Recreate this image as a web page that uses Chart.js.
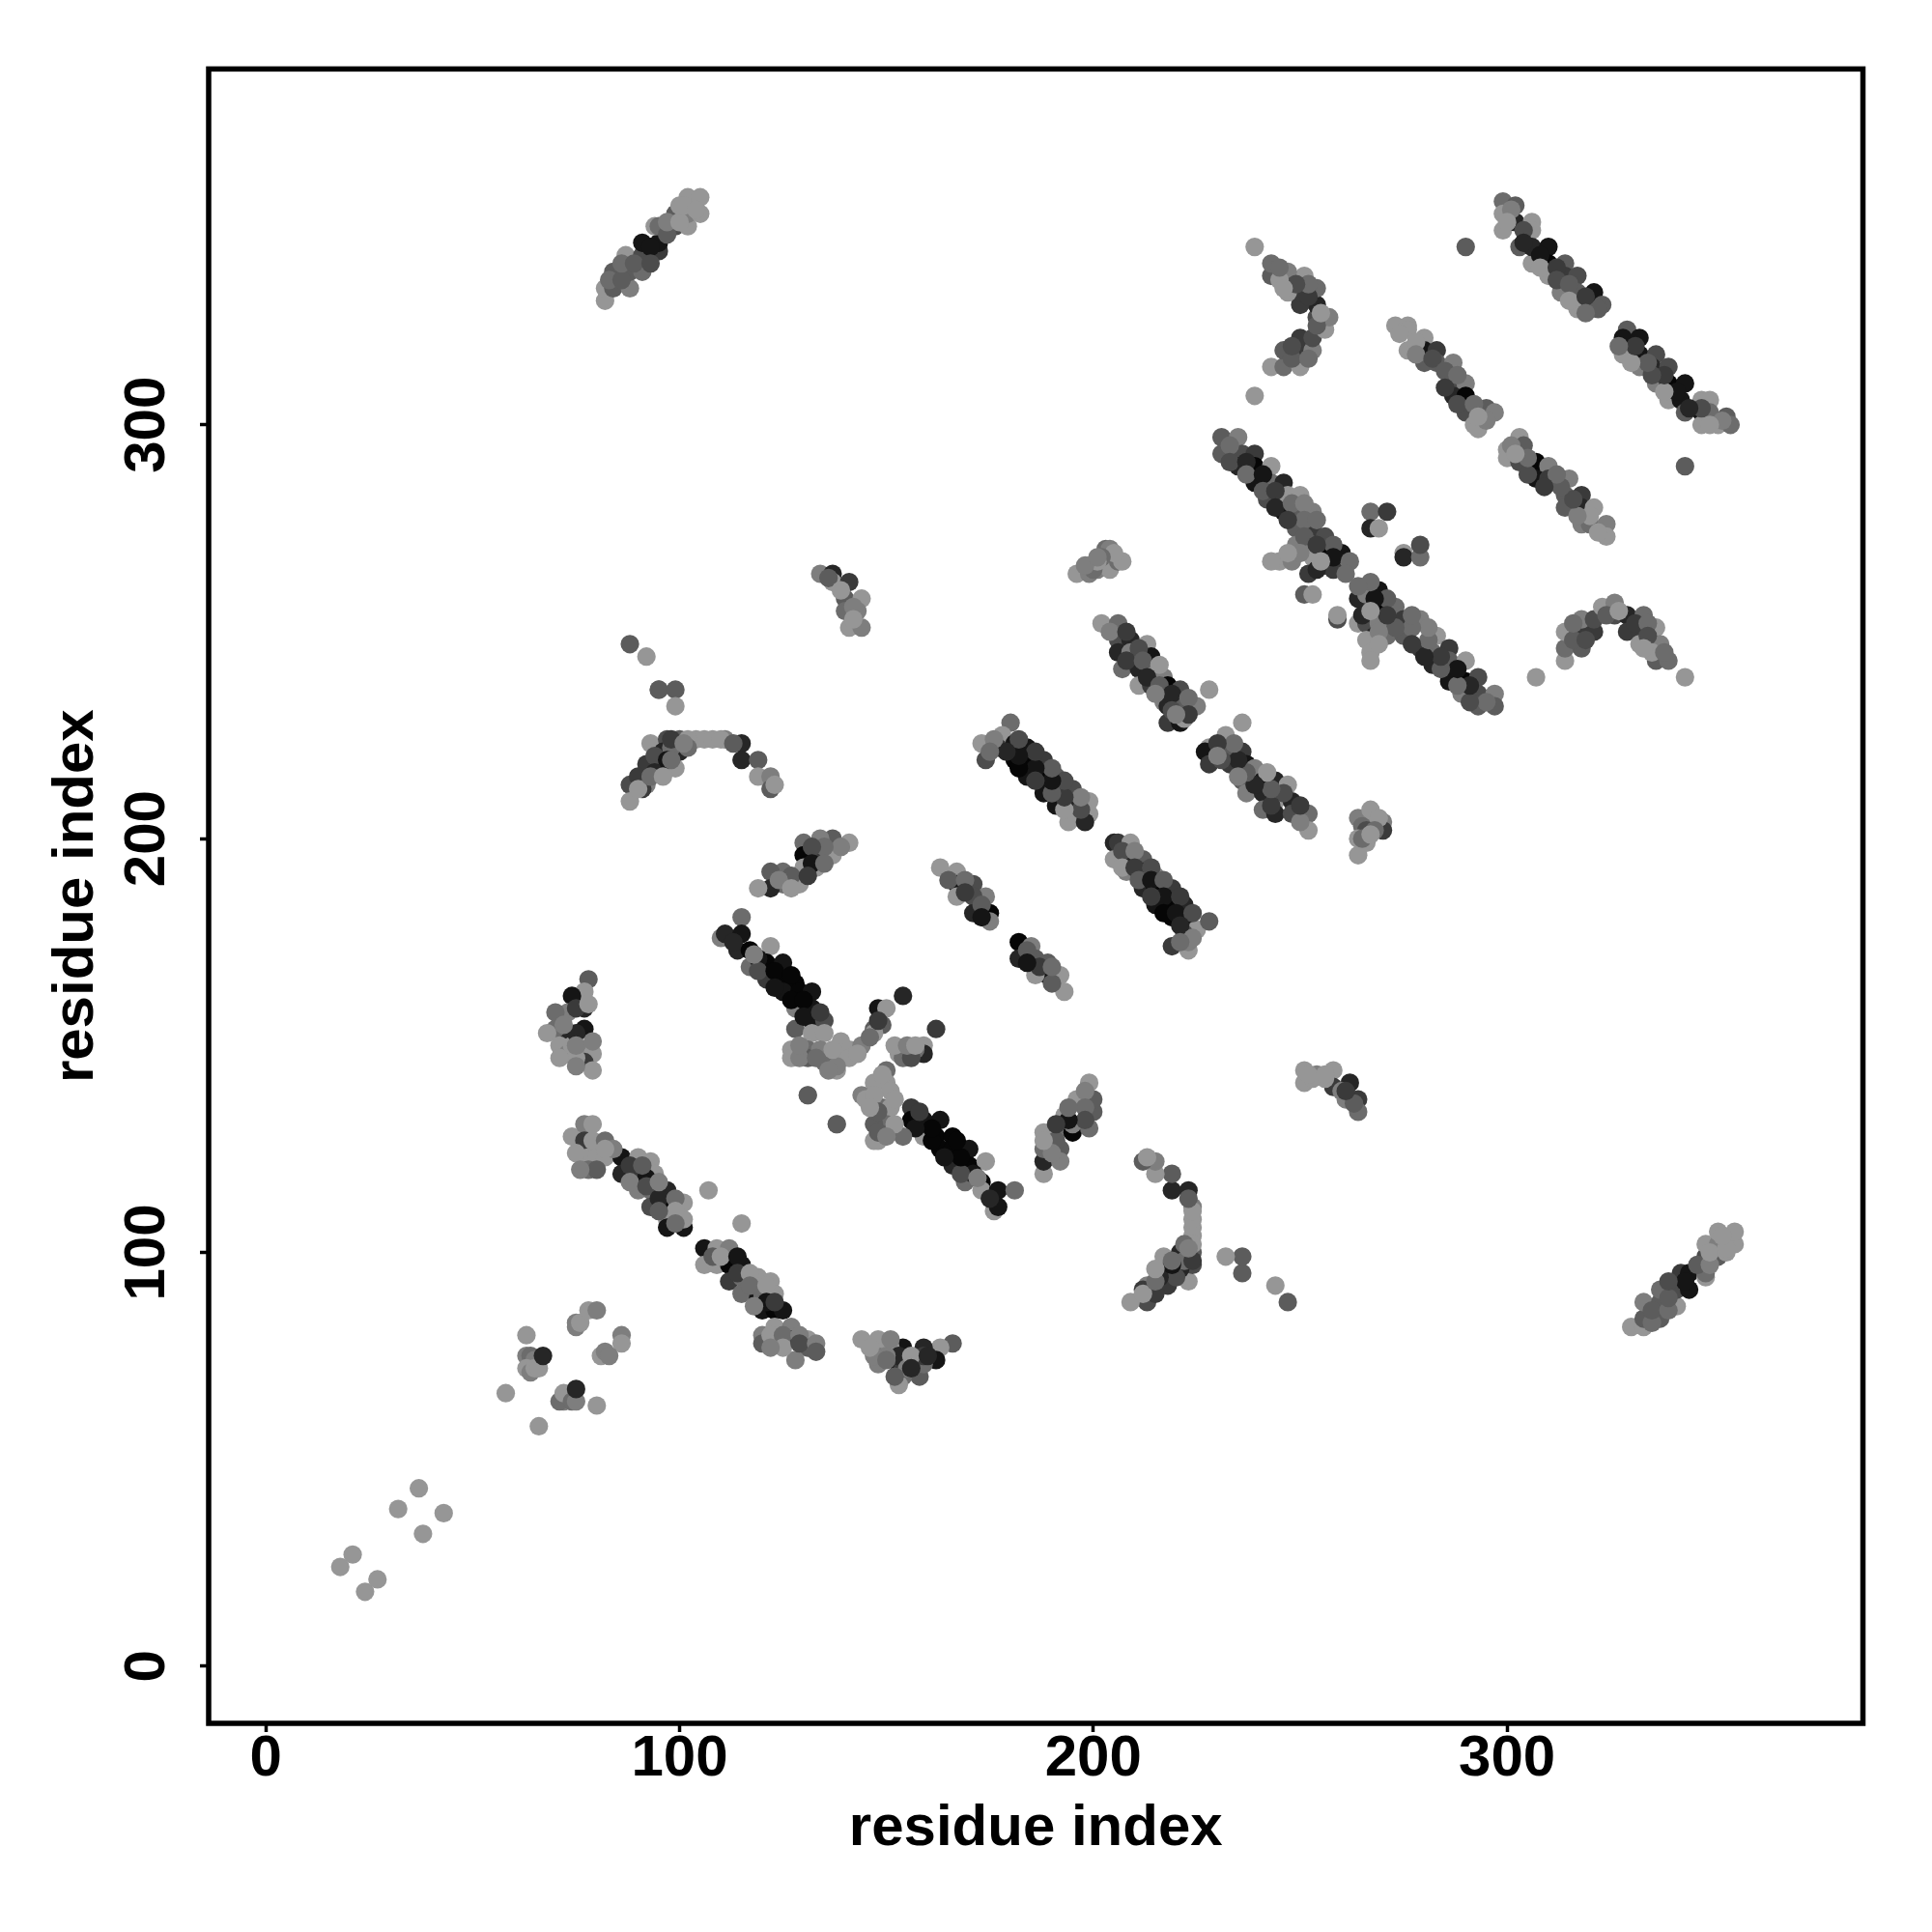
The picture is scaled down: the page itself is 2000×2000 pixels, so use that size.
<!DOCTYPE html>
<html><head><meta charset="utf-8">
<style>html,body{margin:0;padding:0;background:#fff}canvas{display:block}</style>
<script src="https://cdn.jsdelivr.net/npm/chart.js@4/dist/chart.umd.min.js"></script>
</head><body><canvas id="c" width="2000" height="2000"></canvas>
<script>
// each contact: [residue i, residue j, shade index]
const axisTicks = [0,100,200,300];
const axisTitle = 'residue index';
const shades = ['#060606','#151515','#262626','#3a3a3a','#4c4c4c','#5c5c5c','#6c6c6c','#7e7e7e','#969696'];

const lowEnds = [[18,24,8],[21,27,8],[24,18,8],[27,21,8],[32,38,8],[37,43,8],[38,32,8],[43,37,8],[58,66,8],[66,58,8],[63,80,8],[63,75,7],[64,75,6],[65,74,7],[63,72,8],[64,71,7],[65,72,8],[66,72,8],[67,75,2],[72,64,7],[71,64,6],[72,66,8],[74,64,6],[75,64,7],[75,67,2],[80,63,8],[75,83,7],[75,82,7],[76,83,8],[78,86,8],[80,86,7],[86,80,7],[86,78,8],[81,75,8],[82,76,7],[83,75,7]];
const bandQ = [[78,166,5],[77,163,8],[74,162,1],[77,159,2],[73,158,7],[70,158,6],[77,154,1],[73,153,2],[70,154,6],[68,153,8],[71,150,8],[73,148,7],[74,150,8],[77,148,7],[79,148,8],[77,146,3],[75,147,8],[79,144,8],[75,159,3],[75,153,2],[72,155,7],[75,150,7],[79,151,7],[78,160,8],[71,147,8],[75,145,7]];
const bandU = [[166,78,5],[163,77,8],[162,74,1],[159,77,2],[158,73,6],[158,70,5],[154,77,1],[153,73,1],[154,70,6],[153,68,8],[150,76,8],[148,76,6],[148,73,7],[144,79,8],[148,79,8],[159,73,6],[154,72,3],[151,77,8],[159,75,3],[153,75,2],[155,72,7],[150,75,7],[151,79,7],[147,75,7],[152,70,5],[156,75,8],[156,72,2],[160,75,2],[146,77,8],[150,74,6]];
const bandR = [[74,128,8],[77,131,7],[79,131,8],[77,127,3],[79,127,8],[82,127,6],[78,123,8],[80,123,8],[82,123,8],[78,120,6],[80,120,5],[86,123,1],[90,123,8],[93,122,8],[86,119,2],[90,119,3],[94,119,8],[92,118,1],[90,115,7],[93,115,6],[97,115,2],[93,111,4],[97,111,0],[101,112,8],[97,108,8],[97,106,1],[101,106,1],[101,108,8],[107,115,8],[115,107,8],[75,124,8],[84,125,7],[76,120,7],[88,121,3],[91,121,5],[88,117,7],[92,116,4],[95,113,2],[95,117,7],[99,113,6],[99,110,8],[99,107,6],[95,110,5],[82,125,8]];
const bandS = [[106,101,1],[109,101,8],[112,101,7],[106,97,8],[109,97,8],[112,97,0],[115,97,1],[112,93,3],[115,94,6],[119,94,8],[122,93,8],[115,90,6],[119,89,1],[120,90,6],[123,90,8],[120,86,1],[123,86,0],[108,99,5],[110,99,8],[114,99,1],[114,95,3],[117,95,8],[117,92,6],[121,92,8],[121,88,1],[118,87,7],[125,86,1],[123,88,3]];
const clusterT = [[120,80,7],[120,78,5],[123,82,8],[123,78,8],[127,82,7],[127,79,3],[131,79,8],[131,77,5],[128,74,7],[122,80,8],[125,80,6],[125,77,8],[129,80,7],[129,78,4],[133,78,7],[133,76,5],[122,77,7]];
const bandM = [[141,199,8],[137,200,5],[134,200,7],[130,199,6],[137,196,8],[133,196,3],[130,196,0],[133,193,8],[130,193,8],[129,189,8],[125,192,6],[122,192,5],[125,189,6],[122,188,2],[119,188,8],[139,198,7],[135,198,6],[132,198,4],[132,194,1],[135,194,6],[127,191,5],[124,190,7],[127,188,8],[131,191,3]];
const bandP = [[188,119,8],[188,122,2],[188,125,6],[192,125,5],[192,122,7],[188,129,8],[192,130,6],[195,129,0],[199,130,6],[193,133,8],[195,131,7],[196,137,8],[200,134,5],[200,137,5],[199,141,8],[198,139,7],[198,135,6],[198,132,4],[194,132,1],[194,135,6],[191,127,5],[190,124,7],[188,127,8],[191,131,3]];
const bandN = [[115,181,6],[110,176,7],[111,177,2],[115,177,1],[114,173,2],[117,173,0],[122,174,8],[117,169,6],[121,170,0],[125,170,1],[121,166,3],[125,166,0],[128,165,0],[125,163,1],[129,163,0],[132,163,1],[128,159,7],[132,159,1],[132,156,1],[135,156,4],[128,154,5],[132,153,8],[135,153,8],[113,175,2],[119,171,1],[119,168,4],[123,168,0],[123,164,1],[127,167,0],[127,161,0],[130,161,0],[130,157,1],[134,158,3],[118,172,7]];
const bandO = [[156,135,3],[156,132,0],[159,132,1],[163,132,1],[159,128,8],[162,128,0],[166,128,0],[163,125,0],[166,125,0],[170,125,1],[166,121,2],[170,121,0],[174,122,8],[169,117,6],[173,117,0],[173,115,8],[177,115,1],[181,115,6],[176,110,8],[177,111,1],[175,113,2],[171,119,1],[168,119,4],[168,123,0],[164,123,1],[167,127,0],[161,127,0],[161,130,0],[157,130,1],[158,134,3],[172,118,7]];
const centreCross = [[127,149,8],[127,147,8],[131,149,6],[131,147,5],[134,149,7],[135,146,6],[139,151,8],[139,147,8],[141,149,8],[138,144,8],[144,150,7],[141,147,8],[138,145,7],[148,159,1],[150,159,8],[149,155,5],[147,154,5],[147,153,8],[154,162,2],[162,154,3],[159,150,8],[159,148,2],[155,149,5],[153,148,8],[154,147,6],[131,138,8],[131,138,5],[138,131,8],[138,131,5],[147,141,8],[144,138,7],[147,136,8],[150,144,6],[150,141,8],[151,139,8],[149,135,6],[151,135,8],[150,131,6],[147,131,5],[154,128,6],[148,127,8],[147,127,8],[129,147,7],[133,147,6],[137,149,8],[143,148,8],[129,150,7],[136,144,7],[145,137,8],[147,138,8],[149,143,8],[152,137,8],[148,134,5],[152,131,8],[146,135,8],[148,129,5],[150,128,7],[146,152,6],[148,156,3],[157,149,6],[156,147,4],[152,150,8],[155,150,7],[157,150,8]];
const bandJ = [[163,193,8],[167,192,8],[167,189,1],[171,189,4],[167,186,8],[174,186,7],[171,186,4],[171,182,2],[175,182,0],[175,180,7],[165,190,5],[169,190,6],[169,187,3],[173,184,5],[173,181,1]];
const bandK = [[182,175,0],[185,174,7],[182,171,2],[186,171,5],[189,170,5],[189,167,1],[192,167,8],[186,167,8],[193,163,8],[190,165,5],[184,173,5],[187,169,3],[190,169,6],[184,170,1]];
const arcL = [[88,247,5],[92,244,8],[95,236,7],[95,236,5],[99,236,5],[99,232,8],[93,223,8],[97,224,4],[100,224,5],[104,224,8],[106,224,8],[108,224,8],[111,224,7],[115,223,2],[115,219,2],[119,219,5],[119,215,8],[122,215,7],[122,212,5],[123,213,8],[92,218,3],[96,218,0],[96,218,3],[99,217,8],[100,221,2],[96,221,2],[98,222,6],[88,213,4],[92,213,7],[91,212,3],[88,209,8],[94,220,4],[94,216,2],[97,219,1],[98,224,3],[102,224,8],[102,222,6],[90,215,3],[90,212,8],[110,224,8],[113,223,5],[101,223,7],[93,215,6],[96,215,8],[98,219,6]];
const arcW = [[247,88,5],[244,92,8],[236,95,5],[236,99,5],[232,99,8],[223,93,8],[224,97,4],[224,100,5],[224,104,8],[224,106,8],[224,108,8],[224,111,7],[223,115,2],[219,115,2],[219,119,5],[215,119,8],[215,122,7],[212,122,5],[213,123,8],[218,92,3],[218,96,0],[218,96,3],[217,99,8],[221,100,2],[221,96,2],[222,98,6],[213,88,4],[213,92,7],[212,91,3],[209,88,8],[220,94,4],[216,94,2],[219,97,1],[224,98,3],[224,102,8],[222,102,6],[215,90,3],[212,90,8],[224,110,8],[223,113,5],[223,101,7],[215,93,6],[215,96,8],[219,98,6]];
const bandI = [[180,228,6],[173,223,8],[178,225,8],[177,222,3],[181,223,1],[184,222,1],[174,219,4],[181,219,0],[184,219,0],[188,219,3],[184,215,1],[188,215,0],[191,215,5],[188,212,8],[191,212,2],[195,212,4],[188,211,1],[191,208,1],[194,208,2],[199,209,8],[199,206,8],[195,205,7],[194,204,8],[198,204,2],[197,207,4],[197,210,7],[193,207,8],[193,210,3],[193,214,4],[190,211,5],[190,214,1],[190,217,5],[186,217,1],[186,214,3],[186,221,3],[182,217,0],[182,220,1],[182,224,4],[179,221,2],[176,224,7],[175,221,6]];
const bandH = [[205,199,2],[206,199,3],[209,199,8],[205,195,8],[209,195,2],[212,195,5],[208,192,7],[212,192,1],[215,191,7],[212,188,2],[215,188,0],[219,188,3],[215,184,1],[219,184,0],[222,184,2],[219,181,0],[223,181,1],[225,178,8],[228,180,5],[222,177,4],[219,174,3],[223,173,8],[223,175,7],[207,197,4],[210,197,7],[207,193,8],[210,193,3],[214,193,4],[211,190,5],[214,190,1],[217,190,5],[217,186,1],[214,186,3],[221,186,3],[217,182,0],[220,182,1],[224,182,4],[221,179,2],[224,176,7],[221,175,6]];
const bandE = [[202,252,8],[206,252,6],[206,248,4],[209,248,2],[213,247,8],[206,245,2],[209,245,7],[214,244,1],[207,241,6],[211,241,2],[214,241,7],[217,239,7],[211,237,8],[214,237,3],[218,237,0],[221,236,4],[228,236,8],[217,233,7],[218,232,2],[221,233,5],[225,232,7],[218,228,3],[221,228,1],[222,229,8],[236,228,8],[204,250,7],[208,250,3],[211,246,4],[208,243,3],[212,243,5],[216,242,8],[213,239,2],[216,237,5],[219,235,2],[215,235,7],[219,231,4],[223,234,6],[223,230,3],[220,230,7]];
const bandF = [[232,225,8],[228,222,8],[227,221,1],[228,218,3],[233,222,5],[236,221,3],[233,218,3],[237,218,1],[239,217,7],[236,214,5],[241,214,1],[244,214,2],[247,213,8],[237,211,7],[241,211,2],[244,209,8],[248,209,2],[241,207,6],[244,206,2],[248,206,4],[252,206,6],[252,202,8],[250,204,7],[250,208,3],[246,211,4],[243,208,3],[243,212,5],[242,216,8],[239,213,2],[237,216,5],[235,219,2],[235,215,7],[231,219,4],[234,223,6],[230,223,3],[230,220,7]];
const clusterG = [[266,205,8],[264,205,7],[270,204,7],[268,204,8],[265,203,6],[266,202,4],[270,202,3],[264,200,8],[266,199,8],[264,196,8],[267,207,8],[269,205,8],[268,202,6],[265,200,6],[267,201,8]];
const clusterGm = [[196,264,8],[199,266,8],[201,265,7],[203,267,5],[204,265,8],[206,267,6],[203,270,6],[204,270,7],[199,264,7],[207,267,8],[205,269,8],[202,268,6],[200,265,6],[201,267,8],[198,266,7],[201,268,7]];
const clusterX = [[134,264,7],[137,264,2],[137,262,8],[141,262,3],[140,258,5],[144,258,8],[140,255,6],[143,255,7],[141,251,8],[144,251,7],[136,263,5],[139,260,8],[142,256,7],[142,253,8]];
const clusterXm = [[251,144,8],[251,141,8],[254,143,7],[258,144,8],[258,140,3],[262,141,2],[261,137,7],[264,137,3],[264,134,6],[263,136,5],[260,139,7],[256,142,8],[253,142,8],[252,143,8],[256,143,8],[261,139,3]];
const bandC = [[231,297,5],[235,297,7],[231,293,5],[236,293,4],[239,293,3],[235,290,2],[239,290,0],[243,290,8],[239,286,1],[243,286,6],[246,286,2],[242,282,4],[246,282,6],[247,283,8],[250,283,8],[246,279,1],[249,279,5],[253,279,7],[249,275,5],[253,275,3],[256,273,4],[249,271,7],[253,271,7],[245,267,8],[248,267,7],[253,268,8],[256,269,0],[260,269,1],[256,266,3],[260,266,7],[252,264,3],[258,265,3],[251,259,5],[253,259,8],[259,253,4],[259,254,8],[233,295,6],[233,291,4],[237,291,2],[237,288,6],[241,288,1],[241,284,5],[244,284,3],[244,280,2],[248,281,6],[251,281,7],[251,277,6],[247,277,3],[251,273,5],[254,277,6],[258,271,5],[254,271,3],[250,269,7],[247,269,8],[258,268,1],[262,267,6],[254,265,2],[261,264,6],[243,267,8],[255,267,8]];
const bandC2 = [[264,258,2],[266,259,7],[269,260,1],[269,256,0],[273,256,6],[275,253,3],[279,253,7],[264,252,8],[266,252,4],[269,252,7],[271,249,6],[275,249,5],[268,249,2],[266,248,8],[267,245,8],[279,246,3],[283,249,8],[282,245,6],[286,246,3],[282,242,2],[286,243,5],[290,243,8],[286,238,1],[290,238,0],[293,239,4],[289,235,7],[293,235,4],[297,235,7],[293,232,5],[297,232,5],[295,233,6],[291,233,4],[291,237,2],[288,237,6],[288,241,1],[284,241,5],[284,244,3],[280,244,2],[281,248,6],[281,251,7],[277,251,6],[277,247,3],[273,251,5],[277,254,6],[271,258,5],[271,254,3],[269,250,7],[269,247,8],[268,258,1],[267,262,6],[265,254,2],[264,261,6],[267,243,8],[267,255,8]];
const arcD = [[307,239,8],[343,239,8],[314,243,8],[314,246,6],[314,250,8],[318,246,5],[318,250,3],[321,250,3],[318,253,7],[321,253,4],[323,256,8],[326,257,7],[326,254,4],[329,254,2],[333,254,6],[329,250,3],[332,250,3],[336,251,8],[332,247,8],[337,247,7],[336,244,8],[336,243,5],[339,243,6],[316,248,5],[316,252,6],[319,248,4],[324,254,5],[327,255,8],[331,252,3],[334,252,6],[334,249,4],[335,245,8],[333,246,8],[338,245,6]];
const arcV = [[239,307,8],[239,343,8],[243,314,8],[246,314,6],[250,314,8],[246,318,5],[250,318,3],[250,321,3],[253,318,7],[253,321,4],[256,323,8],[257,326,7],[254,326,4],[254,329,2],[254,333,6],[250,329,3],[250,332,3],[251,336,8],[247,332,8],[247,337,7],[244,336,8],[243,336,5],[243,339,6],[248,316,5],[252,316,6],[248,319,4],[254,324,5],[255,327,8],[252,331,3],[252,334,6],[249,334,4],[245,335,8],[246,333,8],[245,338,6]];
const smallPairs = [[267,279,6],[271,279,3],[267,275,2],[269,275,8],[275,269,8],[275,268,2],[279,268,6],[279,271,4],[290,343,5],[343,290,5]];
const bandB = [[273,324,8],[276,324,8],[276,323,8],[280,321,8],[276,318,8],[280,318,1],[283,318,3],[280,315,5],[283,315,5],[287,315,7],[287,310,4],[290,310,7],[287,307,2],[290,307,0],[290,303,4],[295,304,5],[297,303,7],[292,300,8],[293,299,8],[274,322,8],[278,320,8],[278,317,7],[282,316,4],[285,313,5],[288,312,6],[285,309,3],[288,305,4],[292,305,6],[295,301,7],[293,302,8]];
const bandB2 = [[300,294,8],[303,297,8],[304,295,5],[300,292,8],[303,291,4],[307,291,0],[310,290,7],[307,287,1],[310,287,3],[315,287,7],[314,283,5],[318,283,3],[314,280,5],[318,280,2],[321,280,8],[318,276,7],[320,276,6],[324,276,7],[324,273,8],[322,274,8],[320,278,8],[317,278,7],[316,282,4],[313,285,5],[312,288,6],[309,285,3],[305,288,4],[305,292,6],[301,295,7],[302,293,8]];
const bandA = [[299,354,6],[302,353,5],[299,351,8],[299,347,8],[302,349,2],[303,343,5],[306,349,8],[306,347,8],[306,339,8],[306,343,2],[310,343,1],[310,339,0],[310,336,8],[314,339,5],[314,336,3],[313,332,7],[317,336,4],[317,332,5],[317,328,8],[321,332,1],[320,328,1],[323,329,5],[322,328,5],[301,352,7],[300,349,8],[304,347,4],[304,344,2],[308,341,1],[308,338,8],[312,338,3],[312,335,4],[315,334,5],[315,330,8],[319,331,3],[319,327,6]];
const bandA2 = [[329,323,5],[328,321,1],[328,317,8],[332,321,1],[332,317,1],[332,314,7],[336,317,4],[335,314,2],[336,310,7],[339,314,4],[339,310,0],[339,306,8],[343,310,1],[342,306,1],[343,303,5],[347,306,8],[349,306,8],[347,303,1],[349,303,6],[347,300,8],[351,300,8],[353,302,5],[354,300,6],[352,301,7],[349,300,8],[347,304,4],[344,304,2],[341,308,1],[338,308,8],[338,312,3],[335,312,4],[334,315,5],[330,315,8],[331,319,3],[327,319,6]];
const clusterY = [[82,330,8],[82,333,8],[84,333,5],[84,337,5],[88,333,7],[88,337,5],[91,337,6],[87,341,8],[91,341,4],[91,344,1],[95,342,3],[95,344,1],[94,348,8],[95,348,6],[99,348,4],[99,351,5],[102,348,8],[102,351,7],[102,355,8],[105,355,8],[105,351,8],[83,335,6],[86,335,5],[86,339,6],[89,339,5],[93,343,1],[93,339,4],[97,346,5],[97,349,7],[100,349,8],[100,353,8],[101,353,8],[104,352,8]];
const clusterZ = [[330,82,8],[333,82,8],[333,84,5],[337,84,5],[333,88,7],[337,88,5],[337,91,6],[341,87,8],[341,91,4],[344,91,1],[342,95,3],[344,95,1],[348,94,8],[348,95,6],[348,99,4],[351,99,5],[348,102,8],[351,102,7],[355,102,8],[355,105,8],[351,105,8],[335,83,6],[335,86,5],[339,86,6],[339,89,5],[343,93,1],[339,93,4],[346,97,5],[349,97,7],[349,100,8],[353,100,8],[353,101,8],[352,104,8]];

const contactGroups = [lowEnds,bandQ,bandU,bandR,bandS,clusterT,bandM,bandP,bandN,bandO,centreCross,bandJ,bandK,arcL,arcW,bandI,bandH,bandE,bandF,clusterG,clusterGm,clusterX,clusterXm,bandC,bandC2,arcD,arcV,smallPairs,bandB,bandB2,bandA,bandA2,clusterY,clusterZ];
const contacts = contactGroups.flat();

const frame = {id:'frame',afterDraw(ch){const a=ch.chartArea,c=ch.ctx;c.save();c.strokeStyle='#000';c.lineWidth=5.5;c.lineJoin='miter';c.strokeRect(a.left,a.top,a.right-a.left,a.bottom-a.top);c.restore();}};
const font = {family:'"Liberation Sans"',size:60,weight:'bold'};
function axis(extra){return Object.assign({type:'linear',min:-13.8,max:386,
  afterBuildTicks(s){s.ticks=axisTicks.map(v=>({value:v}));},
  border:{display:false},
  grid:{drawOnChartArea:false,drawTicks:true,tickLength:9,tickWidth:3.5,tickColor:'#000'}},extra);}

new Chart(document.getElementById('c'),{
  type:'scatter',
  data:{datasets:[{data:contacts.map(p=>({x:p[0],y:p[1]})),
    backgroundColor:contacts.map(p=>shades[p[2]]),pointRadius:9.6,borderWidth:0,pointBorderWidth:0,pointHoverRadius:9.6}]},
  options:{responsive:false,animation:false,
    layout:{padding:{left:0,top:71.4,right:71.5,bottom:0}},
    plugins:{legend:{display:false},tooltip:{enabled:false}},
    scales:{
      x:axis({afterFit(s){s.height=216;},
        ticks:{color:'#000',font,padding:-8,maxRotation:0,minRotation:0,autoSkip:false,callback:v=>String(v)},
        title:{display:true,text:axisTitle,color:'#000',font,padding:{top:0,bottom:71}}}),
      y:axis({afterFit(s){s.width=216;},
        ticks:{color:'#000',font,padding:3,crossAlign:'center',minRotation:90,maxRotation:90,autoSkip:false,callback:v=>String(v)},
        title:{display:true,text:axisTitle,color:'#000',font,padding:{top:43,bottom:0}}})
    }},
  plugins:[frame]
});
</script></body></html>
